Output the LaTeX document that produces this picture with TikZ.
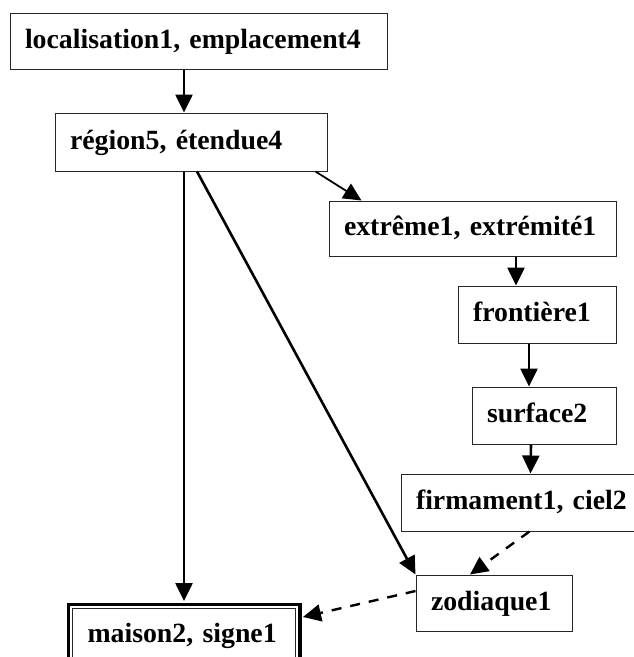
\documentclass[tikz,border=0pt]{standalone}
\usepackage{fontspec}
\setmainfont{Liberation Serif}
\usetikzlibrary{arrows.meta}
\begin{document}
\begin{tikzpicture}[x=1pt,y=-1pt,
  box/.style={draw=black!85, line width=1pt, fill=white, rectangle,
    inner xsep=15pt, inner ysep=0pt, align=left,
    font=\fontsize{27.8}{30}\selectfont\bfseries,
    text height=20pt, text depth=6pt},
  tip/.style={-{Triangle[length=18pt,width=17pt]}},
  link/.style={line width=2.6pt, tip},
  thinlink/.style={line width=1.8pt, tip},
  dlink/.style={line width=2.4pt, dash pattern=on 10pt off 9pt, tip}]
\clip (0,0) rectangle (634,657);
\fill[white] (0,0) rectangle (634,657);

% concept boxes
\node[box, minimum width=377pt, minimum height=56pt, text width=347pt] (A) at (198.5,41) {localisation1, emplacement4};
\node[box, minimum width=272pt, minimum height=58pt, text width=242pt] (B) at (191,142) {région5, étendue4};
\node[box, minimum width=287pt, minimum height=55pt, text width=257pt] (C) at (472.5,228.5) {extrême1, extrémité1};
\node[box, minimum width=158pt, minimum height=57pt, text width=128pt] (D) at (537,314.5) {frontière1};
\node[box, minimum width=144pt, minimum height=57pt, text width=114pt] (E) at (544,415.5) {surface2};
\node[box, minimum width=260pt, minimum height=57pt, text width=230pt, inner xsep=14pt] (F) at (531,502.5) {firmament1, ciel2};
\node[box, minimum width=156pt, minimum height=56pt, text width=126pt] (G) at (494,603) {zodiaque1};
\node[box, minimum width=223pt, minimum height=53pt, text width=193pt] (H) at (184,635) {maison2, signe1};
% heavy outer frame of the target box
\draw[line width=3.8pt] ([xshift=-3.6pt,yshift=3.6pt]H.north west) rectangle ([xshift=3.6pt,yshift=-3.6pt]H.south east);

% connectors
\draw[link] ([xshift=-14.5pt]A.south) -- ([xshift=-7pt]B.north);
\draw[link] ([xshift=-7pt]B.south) -- ([yshift=7pt]H.north);
\draw[thinlink] ([xshift=-12pt]B.south east) -- ([xshift=33pt]C.north west);
\draw[link] ([xshift=43.5pt]C.south) -- ([xshift=-21pt]D.north);
\draw[link] ([xshift=-8pt]D.south) -- ([xshift=-15pt]E.north);
\draw[link] ([xshift=-13pt]E.south) -- ([xshift=130pt]F.north west);
\draw[link] ([xshift=6pt]B.south) -- (G.north west);
\draw[dlink] ([xshift=129pt]F.south west) -- ([xshift=-24pt]G.north);
\draw[dlink] ([yshift=12pt]G.west) -- ([xshift=7pt,yshift=18pt]H.east);
\end{tikzpicture}
\end{document}
